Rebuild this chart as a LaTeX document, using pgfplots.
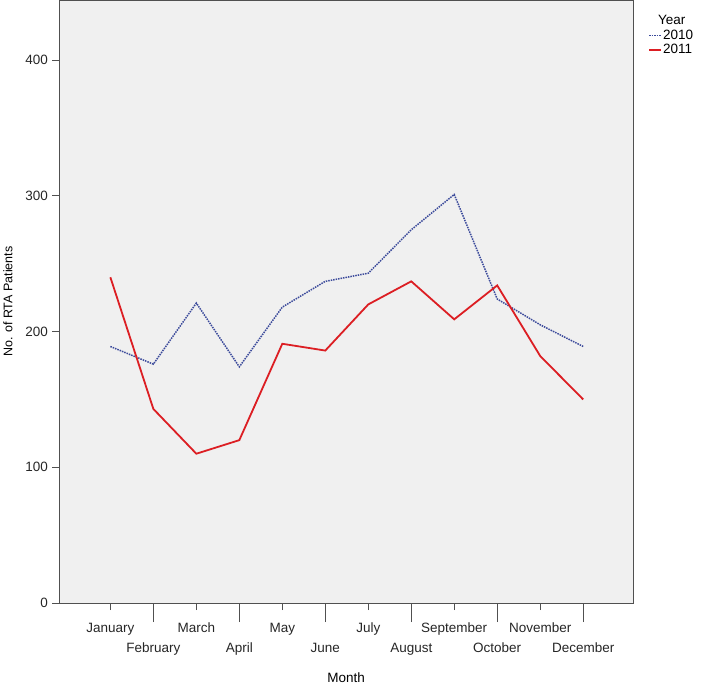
\documentclass[border=0pt]{standalone}
\usepackage{pgfplots}
\pgfplotsset{compat=1.18}
\usepackage{fontspec}
\setmainfont{Liberation Sans}
\definecolor{bg}{RGB}{240,240,240}
\definecolor{line10}{RGB}{60,75,155}
\definecolor{line11}{RGB}{220,30,35}
\definecolor{axgray}{RGB}{80,80,80}

\begin{document}
\begin{tikzpicture}[x=1pt,y=1pt]
% invisible frame to fix page size (701 x 682)
\path (-59,-76) rectangle (642,603);
\begin{axis}[
    at={(0,0)}, anchor=south west,
    scale only axis,
    width=574pt, height=603pt,
    xmin=-1.186, xmax=12.16,
    ymin=0, ymax=444,
    axis background/.style={fill=bg},
    axis line style={axgray, line width=0.8pt},
    every tick/.style={axgray, line width=0.8pt},
    tick align=outside,
    major tick length=7pt,
    xtick={0,2,4,6,8,10},
    xticklabels={January,March,May,July,September,November},
    extra x ticks={1,3,5,7,9,11},
    extra x tick labels={February,April,June,August,October,December},
    extra x tick style={major tick length=19pt,
        tick label style={yshift=-8pt}},
    ytick={0,100,200,300,400},
    xtick pos=bottom, ytick pos=left,
    tick label style={font=\fontsize{13.5}{15}\selectfont, text=black!85},
    xticklabel style={yshift=-9pt, text height=10pt, text depth=3pt},
    yticklabel style={xshift=-1pt},
    /pgf/number format/assume math mode=true,
    xlabel={Month},
    xlabel style={font=\fontsize{13.5}{15}\selectfont, yshift=-3pt},
    ylabel={No. of RTA Patients},
    ylabel style={font=\fontsize{12.5}{14}\selectfont, yshift=6pt},
    legend style={at={(axis description cs:1,1)}, anchor=north west,
        xshift=15pt, yshift=-14pt, draw=none, fill=none,
        font=\fontsize{13.5}{15}\selectfont, row sep=1.5pt,
        nodes={inner sep=1pt},
        legend cell align=left, inner sep=0pt},
    legend image code/.code={\draw[#1] (0pt,0pt) -- (12pt,0pt);},
    clip=false,
]
\addlegendimage{empty legend}
\addlegendentry{\hspace{-5pt}Year}
\addplot[line10, line width=1.5pt, densely dotted] coordinates {
    (0,189) (1,176) (2,221) (3,174) (4,218) (5,237)
    (6,243) (7,275) (8,301) (9,224) (10,205) (11,189)
};
\addlegendentry{2010}
\addplot[line11, line width=1.8pt] coordinates {
    (0,240) (1,143) (2,110) (3,120) (4,191) (5,186)
    (6,220) (7,237) (8,209) (9,234) (10,182) (11,150)
};
\addlegendentry{2011}
\end{axis}
\end{tikzpicture}
\end{document}
